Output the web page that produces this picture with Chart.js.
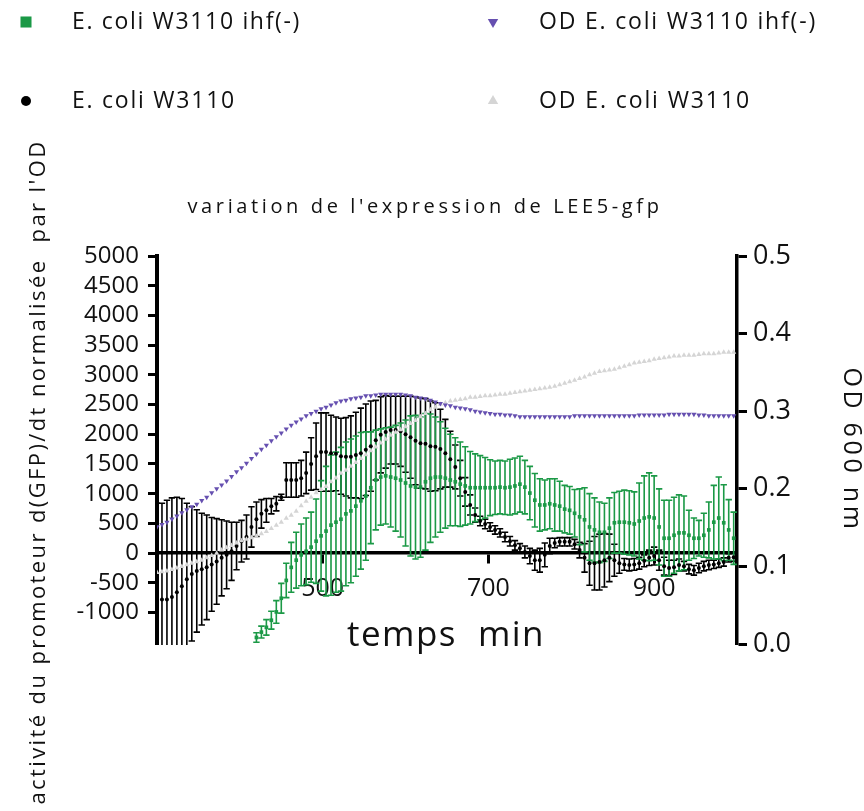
<!DOCTYPE html>
<html>
<head>
<meta charset="utf-8">
<script src="https://cdn.jsdelivr.net/npm/chart.js@4.4.0/dist/chart.umd.min.js"></script>
<style>
  html, body { margin: 0; padding: 0; background: #fff; }
</style>
</head>
<body>
<canvas id="gfpChart" width="864" height="811"></canvas>
<script>
// sampling times (min)
var times = [300,306,312,318,324,330,336,342,348,354,
  360,366,372,378,384,390,396,402,408,414,
  420,426,432,438,444,450,456,462,468,474,
  480,486,492,498,504,510,516,522,528,534,
  540,546,552,558,564,570,576,582,588,594,
  600,606,612,618,624,630,636,642,648,654,
  660,666,672,678,684,690,696,702,708,714,
  720,726,732,738,744,750,756,762,768,774,
  780,786,792,798,804,810,816,822,828,834,
  840,846,852,858,864,870,876,882,888,894,
  900,906,912,918,924,930,936,942,948,954,
  960,966,972,978,984,990,996];

// E. coli W3110 : d(GFP)/dt / OD, mean and error
var wtActivity = [-780,-780,-780,-740,-660,-560,-440,-350,-300,-270,
  -240,-190,-140,-80,-30,30,120,200,270,440,
  570,660,720,790,830,940,1230,1230,1230,1260,
  1350,1500,1630,1700,1700,1680,1670,1630,1620,1620,
  1650,1680,1740,1800,1900,1990,2040,2070,2070,2050,
  2000,1950,1890,1850,1840,1800,1790,1750,1680,1580,
  1450,1260,1030,810,640,540,490,440,390,340,
  270,200,130,80,20,-50,-120,-120,-30,120,
  170,190,190,190,150,50,-80,-170,-170,-150,
  -120,-80,-120,-170,-190,-200,-190,-170,-130,-80,
  -50,-120,-220,-250,-240,-200,-220,-270,-290,-250,
  -220,-200,-190,-170,-150,-80,-70];
var wtError = [1620,1620,1670,1670,1600,1480,1280,1130,1030,940,
  880,790,720,640,570,490,400,350,370,340,
  290,240,200,130,120,50,290,290,290,300,
  350,440,560,660,660,640,620,640,660,690,
  720,760,770,760,670,640,610,570,570,590,
  640,690,740,760,760,760,740,670,570,470,
  370,300,240,170,120,80,80,70,70,70,
  80,80,80,80,100,130,170,200,200,130,
  80,70,70,70,80,130,240,370,450,470,
  450,400,270,170,100,100,100,100,100,130,
  150,170,150,130,120,100,80,80,80,80,
  80,80,70,70,70,70,70];

// E. coli W3110 ihf(-) : starts at 420 min
var ihfActivity = [null,null,null,null,null,null,null,null,null,null,
  null,null,null,null,null,null,null,null,null,null,
  -1420,-1330,-1250,-1130,-990,-760,-460,-240,-120,-30,
  30,100,200,290,370,470,520,570,660,710,
  790,880,960,1100,1230,1280,1300,1280,1260,1230,
  1180,1130,1110,1110,1200,1260,1280,1280,1260,1230,
  1200,1160,1130,1100,1100,1100,1100,1100,1100,1110,
  1100,1110,1130,1160,1110,1010,890,810,810,830,
  810,790,740,720,670,610,560,440,390,350,
  350,420,510,520,520,510,490,540,590,610,
  590,440,250,250,300,340,340,300,250,250,
  300,390,520,590,510,390,250];
var ihfError = [null,null,null,null,null,null,null,null,null,null,
  null,null,null,null,null,null,null,null,null,null,
  80,100,130,150,190,250,290,420,470,520,
  560,590,710,930,1090,1180,1180,1210,1210,1210,
  1180,1150,1080,940,840,810,810,840,890,960,
  1060,1180,1210,1180,1150,1080,1010,930,840,770,
  740,710,660,610,570,540,510,470,450,450,
  450,470,470,470,450,450,450,440,420,420,
  440,420,400,400,400,470,540,560,540,510,
  490,510,510,520,540,540,540,640,710,740,
  710,640,640,640,640,640,620,420,340,300,
  370,470,620,690,640,510,440];

// OD 600 nm
var odIhf = [0.151,0.154,0.157,0.161,0.165,0.169,0.173,0.177,0.180,0.185,
  0.189,0.195,0.200,0.205,0.210,0.216,0.222,0.227,0.233,0.239,
  0.245,0.251,0.256,0.262,0.267,0.272,0.277,0.282,0.286,0.290,
  0.294,0.297,0.300,0.303,0.305,0.308,0.311,0.313,0.314,0.316,
  0.317,0.318,0.320,0.320,0.321,0.322,0.322,0.322,0.322,0.322,
  0.321,0.320,0.318,0.317,0.316,0.314,0.312,0.310,0.308,0.307,
  0.305,0.304,0.303,0.302,0.300,0.299,0.298,0.297,0.296,0.296,
  0.295,0.295,0.294,0.293,0.293,0.293,0.293,0.293,0.293,0.293,
  0.293,0.293,0.293,0.293,0.294,0.294,0.294,0.294,0.294,0.294,
  0.294,0.294,0.294,0.294,0.294,0.294,0.294,0.295,0.295,0.295,
  0.295,0.295,0.295,0.296,0.296,0.296,0.296,0.296,0.296,0.295,
  0.295,0.294,0.294,0.294,0.294,0.294,0.294];
var odWT = [0.092,0.093,0.094,0.096,0.098,0.100,0.102,0.104,0.106,0.108,
  0.111,0.114,0.117,0.121,0.124,0.127,0.130,0.133,0.135,0.137,
  0.139,0.142,0.145,0.149,0.153,0.157,0.162,0.166,0.171,0.178,
  0.184,0.189,0.195,0.199,0.203,0.209,0.214,0.220,0.224,0.229,
  0.234,0.239,0.244,0.249,0.254,0.259,0.264,0.269,0.273,0.276,
  0.280,0.284,0.288,0.293,0.297,0.302,0.305,0.309,0.311,0.313,
  0.314,0.315,0.316,0.318,0.318,0.319,0.320,0.320,0.321,0.322,
  0.322,0.323,0.324,0.325,0.326,0.327,0.328,0.329,0.330,0.331,
  0.332,0.334,0.336,0.338,0.340,0.342,0.344,0.347,0.349,0.351,
  0.352,0.353,0.354,0.356,0.358,0.360,0.362,0.363,0.364,0.365,
  0.367,0.368,0.369,0.370,0.371,0.371,0.372,0.372,0.372,0.373,
  0.374,0.374,0.374,0.375,0.376,0.376,0.376];

var activityTicks = [-1000,-500,0,500,1000,1500,2000,2500,3000,3500,4000,4500,5000];
var odTicks = [0,0.1,0.2,0.3,0.4,0.5];
var timeTicks = [500,700,900];

var seriesNames = ['E. coli W3110 ihf(-)', 'OD E. coli W3110 ihf(-)', 'E. coli W3110', 'OD E. coli W3110'];

var GREEN = '#1b9946', PURPLE = '#6650b0', BLACK = '#000000', GREY = '#d5d5d5';
var FONT = "'Open Sans', 'DejaVu Sans', sans-serif";

function toPoints(values, errors) {
  var pts = [];
  for (var i = 0; i < times.length; i++) {
    if (values[i] === null) continue;
    pts.push({ x: times[i], y: values[i], err: errors ? errors[i] : 0 });
  }
  return pts;
}

// vertical error bars, drawn with the chart's own scales
var errorBars = {
  id: 'errorBars',
  beforeDatasetsDraw: function (chart) {
    var ctx = chart.ctx, area = chart.chartArea;
    ctx.save();
    ctx.beginPath();
    ctx.rect(area.left, area.top - 3, area.right - area.left, area.bottom - area.top + 4);
    ctx.clip();
    // black first, green above it
    [3, 2].forEach(function (idx) {
      var ds = chart.data.datasets[idx];
      var meta = chart.getDatasetMeta(idx);
      var xs = chart.scales[meta.xAxisID], ys = chart.scales[meta.yAxisID];
      ctx.strokeStyle = ds.errorColor;
      ctx.lineWidth = 1.6;
      ds.data.forEach(function (p) {
        var x = xs.getPixelForValue(p.x);
        var top = ys.getPixelForValue(p.y + p.err);
        var bot = ys.getPixelForValue(p.y - p.err);
        ctx.beginPath();
        ctx.moveTo(x, top); ctx.lineTo(x, bot);
        ctx.moveTo(x - 3.2, top); ctx.lineTo(x + 3.2, top);
        ctx.moveTo(x - 3.2, bot); ctx.lineTo(x + 3.2, bot);
        ctx.stroke();
      });
    });
    ctx.restore();
  }
};

function spacedText(ctx, text, x, y, size, width, angle, align) {
  ctx.save();
  ctx.font = size + 'px ' + FONT;
  if ('letterSpacing' in ctx) ctx.letterSpacing = '0px';
  var w = ctx.measureText(text).width;
  if ('letterSpacing' in ctx) ctx.letterSpacing = Math.max(0, (width - w) / text.length) + 'px';
  ctx.translate(x, y);
  ctx.rotate(angle || 0);
  ctx.textAlign = align || 'center';
  ctx.textBaseline = 'middle';
  ctx.fillStyle = '#111';
  ctx.fillText(text, 0, 0);
  ctx.restore();
}

// titles and the two-column legend
var textLayer = {
  id: 'textLayer',
  afterDraw: function (chart) {
    var ctx = chart.ctx;
    spacedText(ctx, "variation de l'expression de LEE5-gfp", 425, 207, 20, 475, 0);
    spacedText(ctx, "activité du promoteur d(GFP)/dt normalisée  par l'OD", 39, 472, 22, 665, -Math.PI / 2);
    spacedText(ctx, 'OD 600 nm', 851, 450, 25, 165, Math.PI / 2);
    spacedText(ctx, 'temps  min', 446, 636, 35, 198, 0);

    var items = [
      { ds: 2, x: 26, y: 22, w: 229 },
      { ds: 0, x: 493, y: 22, w: 278 },
      { ds: 3, x: 26, y: 101, w: 164 },
      { ds: 1, x: 493, y: 101, w: 212 }
    ];
    items.forEach(function (it) {
      var ds = chart.data.datasets[it.ds];
      ctx.save();
      ctx.fillStyle = ds.pointBackgroundColor;
      ctx.strokeStyle = ds.pointBackgroundColor;
      Chart.helpers.drawPoint(ctx, {
        pointStyle: ds.pointStyle, rotation: ds.pointRotation || 0,
        radius: ds.legendRadius, borderWidth: 0
      }, it.x, it.y);
      ctx.restore();
      spacedText(ctx, ds.label, it.x + 46, it.y, 23, it.w, 0, 'left');
    });
  }
};

var tickGrid = { display: true, drawOnChartArea: false, drawTicks: true, color: '#000', tickColor: '#000', tickWidth: 3 };

var chart = new Chart(document.getElementById('gfpChart'), {
  type: 'scatter',
  data: {
    datasets: [
      { label: seriesNames[1], data: toPoints(odIhf), yAxisID: 'y1', pointStyle: 'triangle', pointRotation: 180,
        pointRadius: 3, pointBackgroundColor: PURPLE, pointBorderColor: PURPLE, pointBorderWidth: 0, legendRadius: 6 },
      { label: seriesNames[3], data: toPoints(odWT), yAxisID: 'y1', pointStyle: 'triangle',
        pointRadius: 3, pointBackgroundColor: GREY, pointBorderColor: GREY, pointBorderWidth: 0, legendRadius: 6 },
      { label: seriesNames[0], data: toPoints(ihfActivity, ihfError), yAxisID: 'y', pointStyle: 'rect',
        pointRadius: 2.6, pointBackgroundColor: GREEN, pointBorderColor: GREEN, pointBorderWidth: 0,
        errorColor: GREEN, legendRadius: 7.8 },
      { label: seriesNames[2], data: toPoints(wtActivity, wtError), yAxisID: 'y', pointStyle: 'circle',
        pointRadius: 2, pointBackgroundColor: BLACK, pointBorderColor: BLACK, pointBorderWidth: 0,
        errorColor: BLACK, legendRadius: 5 }
    ]
  },
  options: {
    responsive: false,
    animation: false,
    devicePixelRatio: 1,
    events: [],
    layout: { padding: { top: 256, bottom: 167, left: 0, right: 0 } },
    plugins: { legend: { display: false }, tooltip: { enabled: false } },
    scales: {
      x: {
        type: 'linear', position: { y: 0 }, min: 300, max: 1000,
        afterBuildTicks: function (s) { s.ticks = timeTicks.map(function (v) { return { value: v }; }); },
        afterFit: function (s) { s.height = 60; },
        grid: Object.assign({ tickLength: 9 }, tickGrid),
        border: { display: true, width: 3.5, color: '#000' },
        ticks: { autoSkip: false, maxRotation: 0, padding: 12, color: '#111',
          font: { family: FONT, size: 25 }, callback: function (v) { return String(v); } }
      },
      y: {
        position: 'left', min: -1530, max: 5000,
        afterBuildTicks: function (s) { s.ticks = activityTicks.map(function (v) { return { value: v }; }); },
        afterFit: function (s) { s.width = 157; },
        grid: Object.assign({ tickLength: 9 }, tickGrid),
        border: { display: true, width: 4, color: '#000' },
        ticks: { autoSkip: false, padding: 9, color: '#111',
          font: { family: FONT, size: 24 }, callback: function (v) { return String(v); } }
      },
      y1: {
        position: 'right', min: 0, max: 0.5,
        afterBuildTicks: function (s) { s.ticks = odTicks.map(function (v) { return { value: v }; }); },
        afterFit: function (s) { s.width = 127; },
        grid: Object.assign({ tickLength: 10 }, tickGrid),
        border: { display: true, width: 3.5, color: '#000' },
        ticks: { autoSkip: false, padding: 6, color: '#111',
          font: { family: FONT, size: 27 }, callback: function (v) { return v.toFixed(1); } }
      }
    }
  },
  plugins: [errorBars, textLayer]
});
</script>
</body>
</html>
